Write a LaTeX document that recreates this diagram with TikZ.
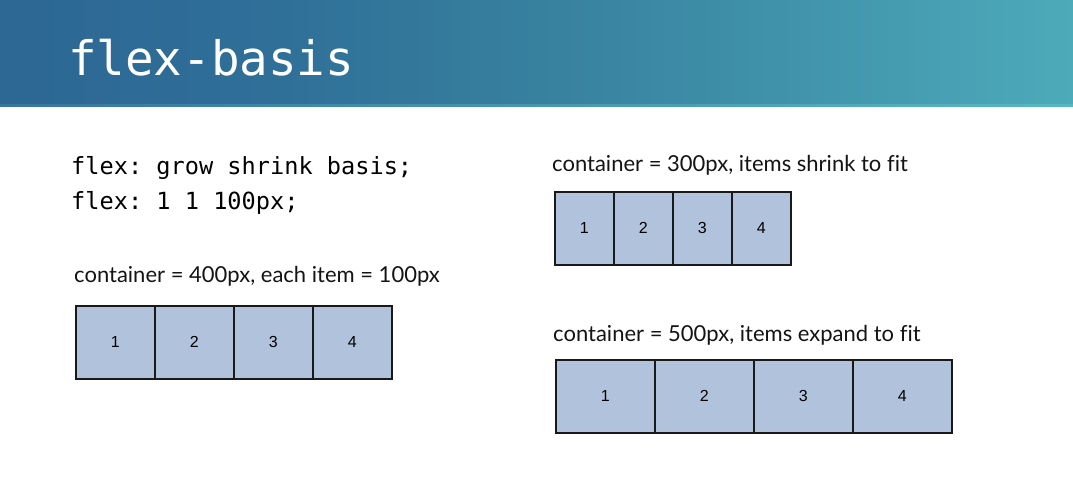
\documentclass[tikz,border=0pt]{standalone}
\usepackage{fontspec}
\setmainfont{Lato}
\newfontfamily\codefont{DejaVu Sans Mono}
\newfontfamily\numfont{Liberation Sans}
\definecolor{itemfill}{RGB}{177,195,220}
\definecolor{itemline}{RGB}{25,25,25}
% header band: blue on the left turning teal on the right
\pgfdeclarehorizontalshading{band}{100bp}{
  rgb(0bp)=(0.176,0.404,0.580);
  rgb(25bp)=(0.176,0.404,0.580);
  rgb(37.5bp)=(0.184,0.435,0.596);
  rgb(50bp)=(0.216,0.502,0.620);
  rgb(62.5bp)=(0.255,0.580,0.675);
  rgb(75bp)=(0.300,0.670,0.725);
  rgb(100bp)=(0.300,0.670,0.725)}
\pgfdeclarehorizontalshading{bandedge}{100bp}{
  rgb(0bp)=(0.22,0.46,0.62);
  rgb(25bp)=(0.22,0.46,0.62);
  rgb(75bp)=(0.34,0.72,0.76);
  rgb(100bp)=(0.34,0.72,0.76)}
\begin{document}
\begin{tikzpicture}[x=1pt,y=-1pt,
  item/.style={draw=itemline, line width=1.6pt, fill=itemfill, inner sep=0pt,
    minimum height=73pt, anchor=north west, font=\numfont\fontsize{16}{16}\selectfont},
  caption/.style={anchor=base west, inner sep=0pt, font=\fontsize{22}{22}\selectfont, text=black!92},
  code/.style={anchor=base west, inner sep=0pt, font=\codefont\frenchspacing\fontsize{23.6}{24}\selectfont, text=black}]
  \useasboundingbox (0,0) rectangle (1073,497);
  \fill[white] (0,0) rectangle (1073,497);
  % title band
  \shade[shading=band] (0,0) rectangle (1073,106);
  \shade[shading=bandedge] (0,105) rectangle (1073,106.2);
  \node[anchor=base west, inner sep=0pt, text=white, font=\codefont\fontsize{47.5}{48}\selectfont] (title) at (68,76) {flex-basis};
  % flex shorthand
  \node[code] (code1) at (71,175) {flex: grow shrink basis;};
  \node[code] (code2) at (71,209) {flex: 1 1 100px;};
  % container = 400px
  \node[caption] (cap400) at (74,282) {container = 400px, each item = 100px};
  \foreach \i/\x in {1/75,2/154,3/233,4/312}
    \node[item, minimum width=79pt] (a\i) at (\x,305) {\i};
  % container = 300px
  \node[caption] (cap300) at (552,172) {container = 300px, items shrink to f\kern0pt it};
  \foreach \i/\x in {1/554,2/613,3/672,4/731}
    \node[item, minimum width=59pt] (b\i) at (\x,191) {\i};
  % container = 500px
  \node[caption] (cap500) at (553,341) {container = 500px, items expand to f\kern0pt it};
  \foreach \i/\x in {1/555,2/654,3/753,4/852}
    \node[item, minimum width=99pt] (c\i) at (\x,359) {\i};
\end{tikzpicture}
\end{document}
